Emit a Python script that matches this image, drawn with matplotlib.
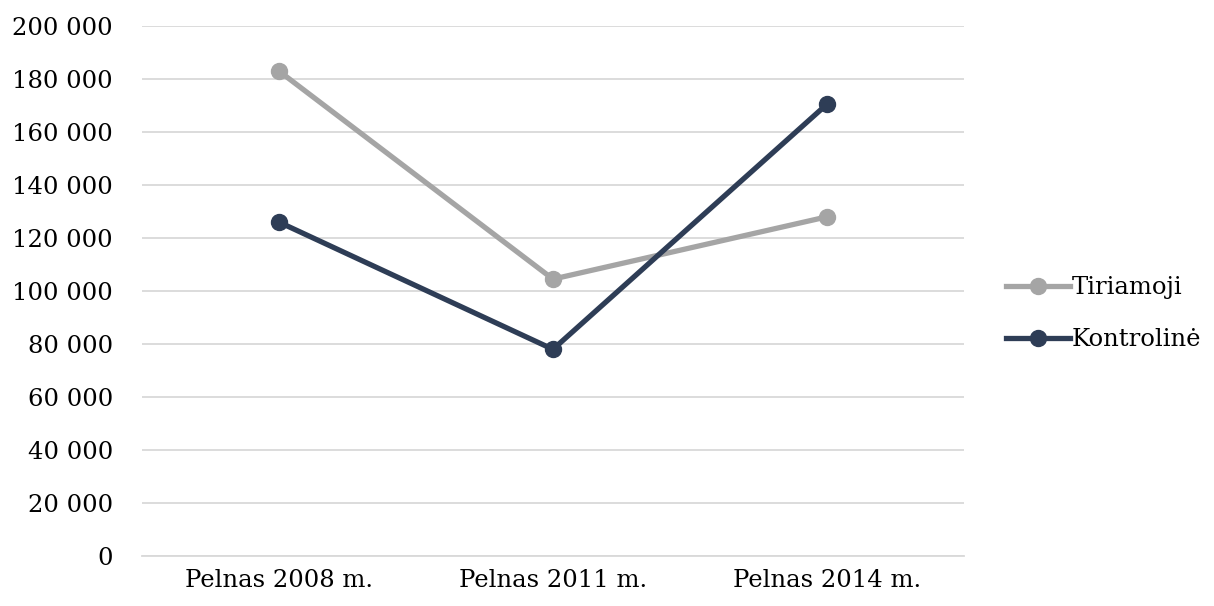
import matplotlib
matplotlib.use("Agg")
import matplotlib.pyplot as plt
import matplotlib.ticker as ticker

# Pelnas pagal grupes
categories = ["Pelnas 2008 m.", "Pelnas 2011 m.", "Pelnas 2014 m."]
tiriamoji = [183000, 104500, 128000]
kontroline = [126000, 78000, 170500]

plt.rcParams["font.family"] = ["DejaVu Serif"]

fig = plt.figure(figsize=(12.14, 6.06), dpi=100)
ax = fig.add_axes([0.117, 0.0825, 0.677, 0.8745])

x = range(len(categories))
ax.plot(x, tiriamoji, color="#A5A5A5", linewidth=3.8, marker="o",
        markersize=11.5, label="Tiriamoji", zorder=3)
ax.plot(x, kontroline, color="#2E3D56", linewidth=3.8, marker="o",
        markersize=11.5, label="Kontrolinė", zorder=3)

ax.set_xlim(-0.5, 2.5)
ax.set_ylim(0, 200000)
ax.set_xticks(list(x))
ax.set_xticklabels(categories)
ax.yaxis.set_major_locator(ticker.MultipleLocator(20000))
ax.yaxis.set_major_formatter(ticker.FuncFormatter(
    lambda v, _: f"{int(v):,}".replace(",", " ")
))

ax.grid(axis="y", color="#D9D9D9", linewidth=1.3, zorder=0)
ax.set_axisbelow(True)
for side in ("top", "right", "left"):
    ax.spines[side].set_visible(False)
ax.spines["bottom"].set_color("#D9D9D9")
ax.spines["bottom"].set_linewidth(1.3)

ax.tick_params(axis="y", length=0, pad=21, labelsize=17.5, colors="#000000")
ax.tick_params(axis="x", length=0, pad=9, labelsize=17.5, colors="#000000")

fig.legend(loc="center left", bbox_to_anchor=(0.819, 0.482), frameon=False,
           fontsize=17.5, handlelength=2.6, handletextpad=0.1,
           labelspacing=1.2, borderpad=0)

fig.savefig("out.png", dpi=100, facecolor="white")
